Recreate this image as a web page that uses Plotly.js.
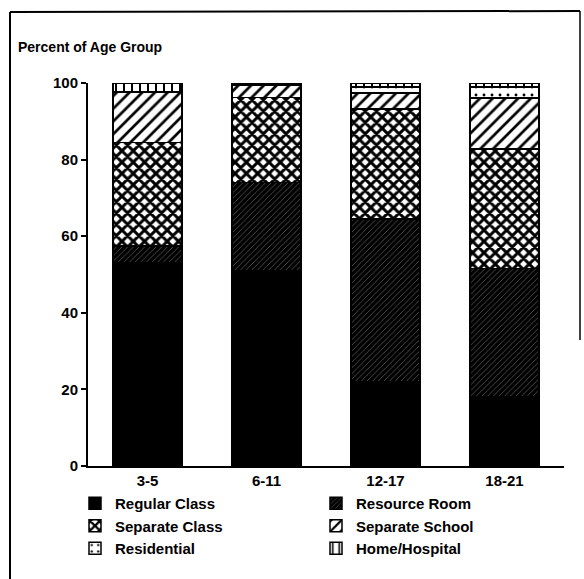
<!DOCTYPE html>
<html>
<head>
<meta charset="utf-8">
<script src="https://cdn.plot.ly/plotly-3.0.1.min.js"></script>
<style>html,body{margin:0;padding:0;background:#fff;}#chart{width:584px;height:579px;}</style>
</head>
<body>
<div id="chart"></div>
<script>
const ageGroups = ['3-5', '6-11', '12-17', '18-21'];
const regularClass = [53, 51, 22, 18];
const resourceRoom = [4.5, 23, 42.5, 33.6];
const separateClass = [27, 22.2, 28.7, 31.2];
const separateSchool = [13, 3.3, 4.2, 13.3];
const residential = [0.3, 0.2, 1.5, 2.9];
const homeHospital = [2.2, 0.3, 1.1, 1.0];
const yTicks = [0, 20, 40, 60, 80, 100];

const outline = {color: '#000', width: 1.5};
function mk(name, y, pattern, color) {
  return {
    type: 'bar', name: name, x: ageGroups, y: y,
    marker: {color: color, line: outline, pattern: pattern},
    hoverinfo: 'skip'
  };
}
const data = [
  mk('Regular Class', regularClass, {shape: ''}, '#000'),
  mk('Resource Room', resourceRoom, {shape: '/', bgcolor: '#000', fgcolor: '#777', size: 4, solidity: 0.15, fillmode: 'replace'}, '#000'),
  mk('Separate Class', separateClass, {shape: 'x', bgcolor: '#fff', fgcolor: '#000', size: 8, solidity: 0.6}, '#fff'),
  mk('Separate School', separateSchool, {shape: '/', bgcolor: '#fff', fgcolor: '#000', size: 9, solidity: 0.3}, '#fff'),
  mk('Residential', residential, {shape: '.', bgcolor: '#fff', fgcolor: '#000', size: 8, solidity: 0.1}, '#fff'),
  mk('Home/Hospital', homeHospital, {shape: '|', bgcolor: '#fff', fgcolor: '#000', size: 8, solidity: 0.25}, '#fff')
];

const font = {family: '"Liberation Sans", Arial, sans-serif', color: '#000', size: 15, weight: 'bold'};
const L = 88, R = 564, T = 83, B = 466, W = 584, H = 579;
const px = v => (v - L) / (R - L);
const py = v => (B - v) / (B - T);

const layout = {
  width: W, height: H,
  margin: {l: L, r: W - R, t: T, b: H - B, pad: 0, autoexpand: false},
  paper_bgcolor: '#fff', plot_bgcolor: '#fff',
  font: font,
  barmode: 'stack',
  bargap: 0.42,
  showlegend: true,
  title: {text: 'Percent of Age Group', x: 18 / W, xanchor: 'left', xref: 'container', y: 1 - 47 / H, yanchor: 'middle', yref: 'container', font: {family: font.family, size: 14, weight: 'bold', color: '#000'}},
  xaxis: {showline: true, linecolor: '#000', linewidth: 2, ticks: '', showgrid: false, zeroline: false, tickfont: font, fixedrange: true},
  yaxis: {range: [0, 100], tickvals: yTicks, ticktext: yTicks.map(String), showline: true, linecolor: '#000', linewidth: 2, ticks: 'outside', ticklen: 5, tickwidth: 2, tickcolor: '#000', showgrid: false, zeroline: false, tickfont: font, fixedrange: true},
  legend: {orientation: 'h', x: px(75), xanchor: 'left', y: py(487), yanchor: 'top', entrywidth: 196, entrywidthmode: 'pixels', traceorder: 'normal', font: font, itemclick: false, itemdoubleclick: false, bgcolor: 'rgba(0,0,0,0)'},
  shapes: [
    {type: 'line', xref: 'paper', yref: 'paper', x0: px(10), x1: px(10), y0: py(12), y1: py(579), line: {color: '#000', width: 2}},
    {type: 'line', xref: 'paper', yref: 'paper', x0: px(10), x1: px(580), y0: py(12), y1: py(11), line: {color: '#000', width: 2}},
    {type: 'line', xref: 'paper', yref: 'paper', x0: px(580), x1: px(580), y0: py(11), y1: py(340), line: {color: '#000', width: 1.5}}
  ]
};

Plotly.newPlot('chart', data, layout, {displayModeBar: false, staticPlot: true});
</script>
</body>
</html>
